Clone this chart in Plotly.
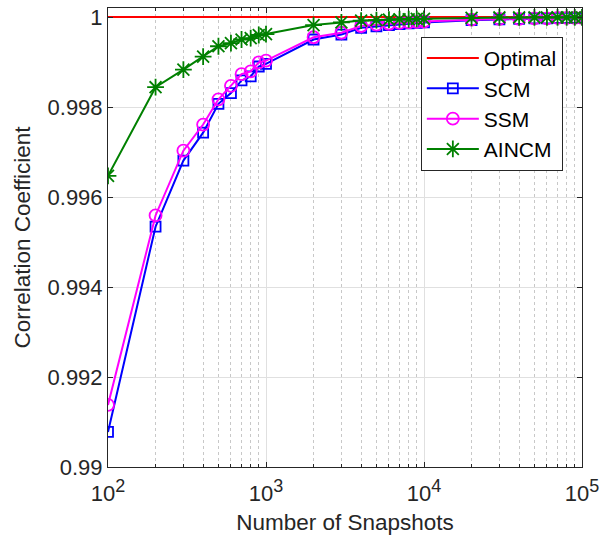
import plotly.graph_objects as go

snapshots = [100, 200, 300, 400, 500, 600, 700, 800, 900, 1000,
             2000, 3000, 4000, 5000, 6000, 7000, 8000, 9000, 10000,
             20000, 30000, 40000, 50000, 60000, 70000, 80000, 90000, 100000]

optimal = [1.0] * len(snapshots)

scm = [0.99078, 0.99534, 0.99681, 0.99743, 0.99807, 0.99831, 0.99859, 0.99868, 0.99890, 0.99896,
       0.99950, 0.99961, 0.99976, 0.99979, 0.99982, 0.99984, 0.99986, 0.99987, 0.99988,
       0.99993, 0.99995, 0.99996, 0.99997, 0.99997, 0.99998, 0.99998, 0.99998, 0.99998]

ssm = [0.99138, 0.99559, 0.99703, 0.99761, 0.99817, 0.99847, 0.99873, 0.99879, 0.99899, 0.99903,
       0.99955, 0.99965, 0.99980, 0.99983, 0.99985, 0.99987, 0.99988, 0.99989, 0.99990,
       0.99994, 0.99996, 0.99996, 0.99997, 0.99997, 0.99998, 0.99998, 0.99998, 0.99998]

aincm = [0.99647, 0.99844, 0.99883, 0.99912, 0.99935, 0.99942, 0.99950, 0.99953, 0.99960, 0.99962,
         0.99982, 0.99988, 0.99992, 0.99993, 0.99994, 0.99995, 0.99995, 0.99996, 0.99996,
         0.99998, 0.99999, 0.99999, 0.99999, 0.99999, 0.99999, 0.99999, 0.99999, 0.99999]

x_tickvals = [100, 1000, 10000, 100000]
x_ticktext = ["10<sup><span style='font-size:18px'>%d</span></sup>" % e for e in (2, 3, 4, 5)]
x_minor = [m * d for d in (100, 1000, 10000) for m in range(2, 10)]
y_tickvals = [0.99, 0.992, 0.994, 0.996, 0.998, 1.0]
y_ticktext = ["0.99", "0.992", "0.994", "0.996", "0.998", "1"]

FONT = "Liberation Sans, Arial, sans-serif"
AX = "#262626"

fig = go.Figure()
fig.add_trace(go.Scatter(x=snapshots, y=optimal, name="Optimal", mode="lines",
                         line=dict(color="#ff0000", width=2)))
fig.add_trace(go.Scatter(x=snapshots, y=scm, name="SCM", mode="lines+markers",
                         line=dict(color="#0000ff", width=2),
                         marker=dict(symbol="square-open", size=10, color="#0000ff",
                                     line=dict(width=1.8, color="#0000ff"))))
fig.add_trace(go.Scatter(x=snapshots, y=ssm, name="SSM", mode="lines+markers",
                         line=dict(color="#ff00ff", width=2),
                         marker=dict(symbol="circle-open", size=12, color="#ff00ff",
                                     line=dict(width=1.8, color="#ff00ff"))))
fig.add_trace(go.Scatter(x=snapshots, y=aincm, name="AINCM", mode="lines+markers",
                         line=dict(color="#008000", width=2),
                         marker=dict(symbol="asterisk-open", size=14, color="#008000",
                                     line=dict(width=1.8, color="#008000"))))

fig.update_layout(
    width=611, height=539,
    margin=dict(l=108, r=29, t=5, b=72),
    paper_bgcolor="white", plot_bgcolor="white",
    font=dict(family=FONT, size=20, color=AX),
    showlegend=True,
    legend=dict(x=0.66, y=0.937, xanchor="left", yanchor="top",
                bgcolor="white", bordercolor=AX, borderwidth=1,
                font=dict(size=21, color="black"), itemwidth=52,
                tracegroupgap=0),
)

fig.update_xaxes(
    type="log", range=[2, 5],
    tickvals=x_tickvals, ticktext=x_ticktext,
    tickfont=dict(size=22),
    ticks="inside", ticklen=5, tickcolor=AX, ticklabelstandoff=7,
    showline=True, linecolor=AX, linewidth=1, mirror="allticks",
    showgrid=True, gridcolor="#e0e0e0", gridwidth=1,
    minor=dict(tickvals=x_minor, ticks="inside", ticklen=3, tickcolor=AX,
               showgrid=True, gridcolor="#c8c8c8", griddash="dot", gridwidth=1),
    zeroline=False,
    title=dict(text="Number of Snapshots", font=dict(size=22.5), standoff=8),
)
fig.update_yaxes(
    range=[0.99, 1.0002],
    tickvals=y_tickvals, ticktext=y_ticktext,
    tickfont=dict(size=22),
    ticks="inside", ticklen=5, tickcolor=AX,
    showline=True, linecolor=AX, linewidth=1, mirror="allticks",
    showgrid=True, gridcolor="#e0e0e0", gridwidth=1,
    zeroline=False,
    title=dict(text="Correlation Coefficient", font=dict(size=22.5), standoff=10),
)

fig.write_html("out.html")
